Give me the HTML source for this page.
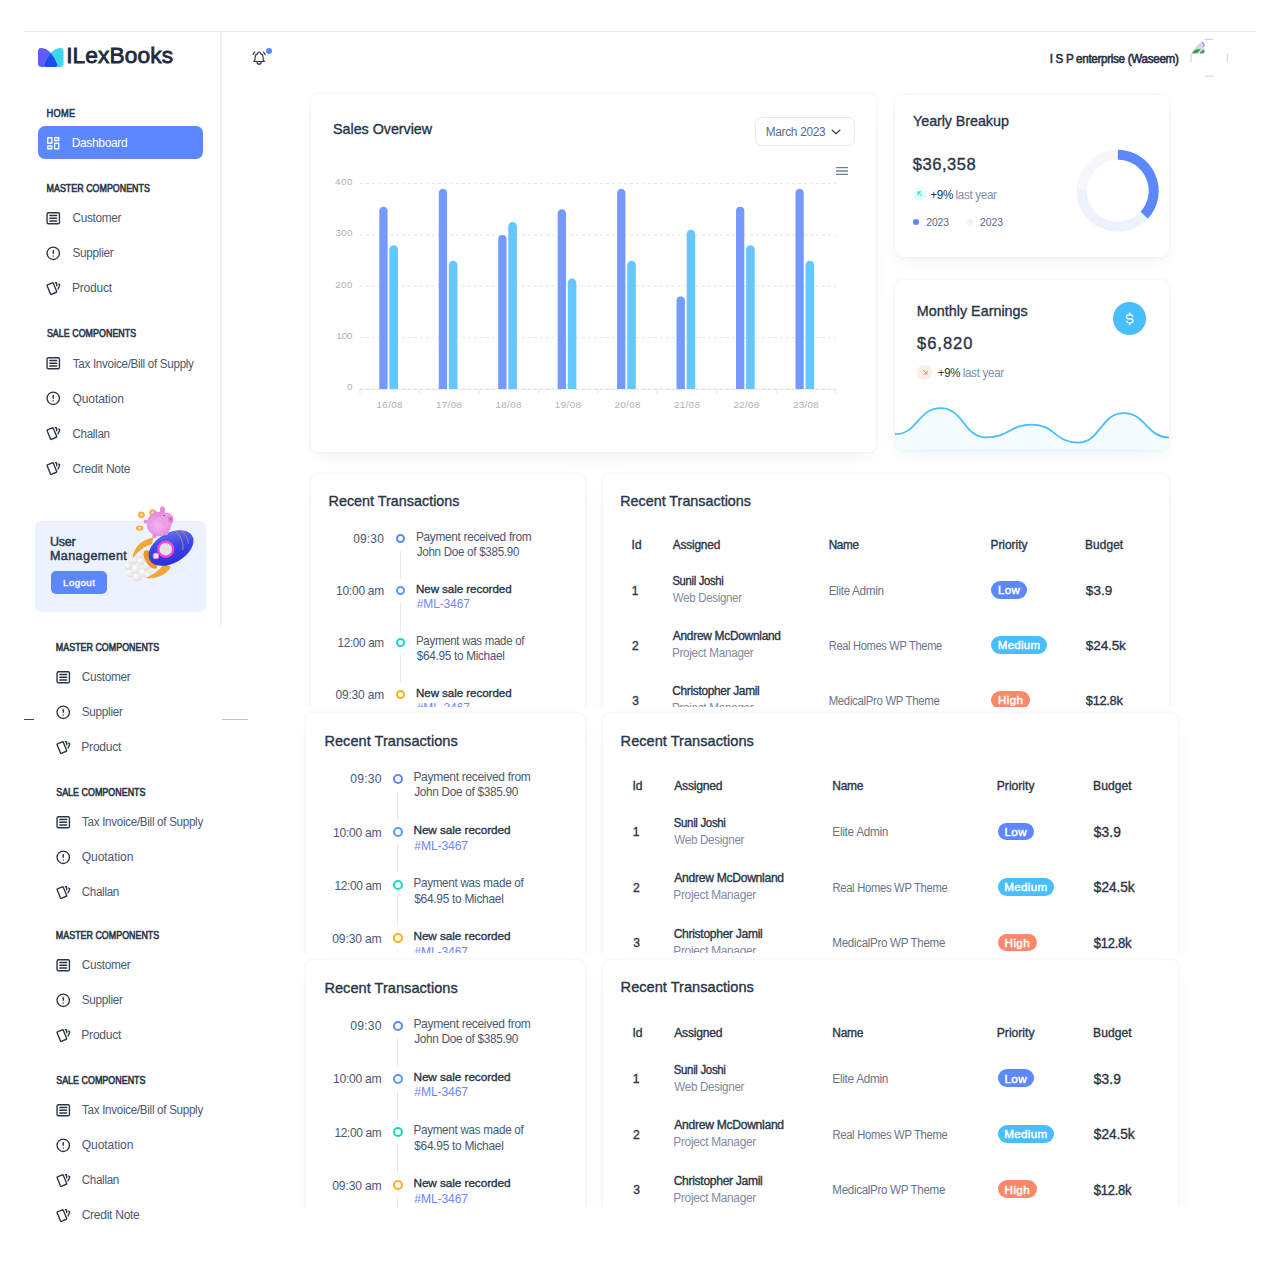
<!DOCTYPE html>
<html><head><meta charset="utf-8"><title>ILexBooks Dashboard</title>
<style>
html,body{margin:0;padding:0;background:#fff;}
body{width:1280px;height:1280px;position:relative;overflow:hidden;font-family:"Liberation Sans",sans-serif;}
.t{position:absolute;white-space:nowrap;}
svg{overflow:visible}
</style></head><body>
<div style="position:absolute;left:24.00px;top:31.00px;width:1232.00px;height:1.00px;background:#ebe6e3"></div>
<div style="position:absolute;left:219.80px;top:31.00px;width:2.00px;height:593.50px;background:#eceff5"></div>
<svg style="position:absolute;left:38px;top:48.2px" width="25.5" height="19" viewBox="0 0 25.5 19">
<defs><clipPath id="lc"><path d="M25.5 3.5Q25.5 0 22 0.1Q16.5 0.6 12.75 5.1Q8.5 10 6.3 16.2Q5.5 18.9 8.5 18.9L22 18.9Q25.5 18.9 25.5 15.5Z"/></clipPath></defs>
<path d="M0 3.5Q0 0 3.5 0.1Q9 0.6 12.75 5.1Q17 10 19.2 16.2Q20 18.9 17 18.9L3.5 18.9Q0 18.9 0 15.5Z" fill="#625bfd"/>
<path d="M25.5 3.5Q25.5 0 22 0.1Q16.5 0.6 12.75 5.1Q8.5 10 6.3 16.2Q5.5 18.9 8.5 18.9L22 18.9Q25.5 18.9 25.5 15.5Z" fill="#3dd8eb"/>
<path d="M0 3.5Q0 0 3.5 0.1Q9 0.6 12.75 5.1Q17 10 19.2 16.2Q20 18.9 17 18.9L3.5 18.9Q0 18.9 0 15.5Z" fill="#1b4fe7" clip-path="url(#lc)"/>
</svg>
<span class="t" style="left:66.20px;top:42.00px;font-size:22.73px;line-height:26.00px;letter-spacing:0.113px;color:#1f2a3c;font-weight:400;-webkit-text-stroke:0.8px #1f2a3c;">ILexBooks</span>
<svg style="position:absolute;left:251.30px;top:50.30px" width="16.2" height="16.2" viewBox="0 0 24 24" fill="none" stroke="#2a3547" stroke-width="1.7" stroke-linecap="round" stroke-linejoin="round"><path d="M10 5a2 2 0 0 1 4 0a7 7 0 0 1 4 6v3a4 4 0 0 0 2 3h-16a4 4 0 0 0 2 -3v-3a7 7 0 0 1 4 -6"/><path d="M9 17v1a3 3 0 0 0 6 0v-1"/><path d="M21 6.727a11.05 11.05 0 0 0 -2.794 -3.727"/><path d="M3 6.727a11.05 11.05 0 0 1 2.792 -3.727"/></svg>
<div style="position:absolute;left:265.80px;top:47.80px;width:6.20px;height:6.20px;background:#5d87ff;border-radius:50%"></div>
<span class="t" style="left:1049.65px;top:52.00px;font-size:11.63px;line-height:13.00px;letter-spacing:-0.298px;color:#253043;font-weight:400;-webkit-text-stroke:0.55px #253043;transform:scaleY(1.0591);transform-origin:0 11px;">I S P enterprise (Waseem)</span>
<svg style="position:absolute;left:1188px;top:37px" width="44" height="44" viewBox="0 0 44 44">
<g stroke="#d2d2d2" stroke-width="1.1" fill="none" stroke-linecap="round">
<path d="M17 2.4h8"/><path d="M17 39.2h8"/><path d="M3 17v7.5"/><path d="M39.4 17v7.5"/>
</g>
<path d="M4.5 15.7 L8.5 9 L12 6 L14 5 L15.8 7.5 L15.8 15.7Z" fill="#c9dcf6"/>
<path d="M4.2 15.8 Q7 11 12.8 12.2 L9.5 15.8Z" fill="#39a526"/>
<path d="M11.8 15.8 L14.8 12.8 L15.8 13.8 L15.8 15.8Z" fill="#39a526"/>
<path d="M4.2 15.9H9.8M11.8 15.9H15.9V12.5M15.9 9.8V7.2L13.6 4.8" stroke="#6f6f6f" stroke-width="1" fill="none"/>
</svg>
<div style="position:absolute;left:38.00px;top:125.50px;width:164.70px;height:33.40px;background:#5d87ff;border-radius:7px"></div>
<svg style="position:absolute;left:44.95px;top:134.75px" width="16.5" height="16.5" viewBox="0 0 24 24" fill="none" stroke="#fff" stroke-width="1.9" stroke-linecap="round" stroke-linejoin="round"><path d="M4 4h6v8h-6zM4 16h6v4h-6zM14 12h6v8h-6zM14 4h6v4h-6z"/></svg>
<span class="t" style="left:71.70px;top:136.00px;font-size:11.94px;line-height:14.00px;letter-spacing:-0.300px;color:#fff;font-weight:400;transform:scaleY(1.0802);transform-origin:0 11px;">Dashboard</span>
<span class="t" style="left:46.55px;top:109.00px;font-size:9.29px;line-height:10.00px;letter-spacing:0.250px;color:#2a3547;font-weight:400;-webkit-text-stroke:0.5px #2a3547;transform:scaleY(1.1000);transform-origin:0 8px;">HOME</span>
<span class="t" style="left:46.55px;top:184.00px;font-size:8.89px;line-height:10.00px;letter-spacing:0.019px;color:#2a3547;font-weight:400;-webkit-text-stroke:0.5px #2a3547;transform:scaleY(1.1300);transform-origin:0 8px;">MASTER COMPONENTS</span>
<svg style="position:absolute;left:45.35px;top:210.05px" width="16.5" height="16.5" viewBox="0 0 24 24" fill="none" stroke="#2a3547" stroke-width="2.0" stroke-linecap="round" stroke-linejoin="round"><rect x="3" y="4" width="18" height="16" rx="2"/><path d="M7 8h10M7 12h10M7 16h10"/></svg>
<span class="t" style="left:72.40px;top:211.00px;font-size:11.83px;line-height:14.00px;letter-spacing:-0.307px;color:#4b5870;font-weight:400;transform:scaleY(1.0198);transform-origin:0 11px;">Customer</span>
<svg style="position:absolute;left:45.35px;top:245.05px" width="16.5" height="16.5" viewBox="0 0 24 24" fill="none" stroke="#2a3547" stroke-width="2.0" stroke-linecap="round" stroke-linejoin="round"><circle cx="12" cy="12" r="9"/><path d="M12 8v4M12 16h.01"/></svg>
<span class="t" style="left:72.45px;top:246.00px;font-size:11.77px;line-height:13.00px;letter-spacing:-0.279px;color:#4b5870;font-weight:400;transform:scaleY(1.0248);transform-origin:0 11px;">Supplier</span>
<svg style="position:absolute;left:45.35px;top:280.05px" width="16.5" height="16.5" viewBox="0 0 24 24" fill="none" stroke="#2a3547" stroke-width="2.0" stroke-linecap="round" stroke-linejoin="round"><path d="M3.604 7.197l7.138 -3.109a.96 .96 0 0 1 1.27 .527l4.924 11.902a1 1 0 0 1 -.514 1.304l-7.137 3.109a.96 .96 0 0 1 -1.271 -.527l-4.924 -11.903a1 1 0 0 1 .514 -1.304z"/><path d="M15 4h1a1 1 0 0 1 1 1v3.5"/><path d="M20 6c.264 .112 .52 .217 .768 .315a1 1 0 0 1 .53 1.311l-2.298 5.374"/></svg>
<span class="t" style="left:72.00px;top:281.00px;font-size:12.06px;line-height:14.00px;letter-spacing:-0.225px;color:#4b5870;font-weight:400;">Product</span>
<span class="t" style="left:46.90px;top:329.00px;font-size:8.89px;line-height:10.00px;letter-spacing:0.036px;color:#2a3547;font-weight:400;-webkit-text-stroke:0.5px #2a3547;transform:scaleY(1.1300);transform-origin:0 8px;">SALE COMPONENTS</span>
<svg style="position:absolute;left:45.35px;top:355.35px" width="16.5" height="16.5" viewBox="0 0 24 24" fill="none" stroke="#2a3547" stroke-width="2.0" stroke-linecap="round" stroke-linejoin="round"><rect x="3" y="4" width="18" height="16" rx="2"/><path d="M7 8h10M7 12h10M7 16h10"/></svg>
<span class="t" style="left:72.75px;top:357.00px;font-size:11.62px;line-height:13.00px;letter-spacing:-0.290px;color:#4b5870;font-weight:400;transform:scaleY(1.0378);transform-origin:0 11px;">Tax Invoice/Bill of Supply</span>
<svg style="position:absolute;left:45.35px;top:390.35px" width="16.5" height="16.5" viewBox="0 0 24 24" fill="none" stroke="#2a3547" stroke-width="2.0" stroke-linecap="round" stroke-linejoin="round"><circle cx="12" cy="12" r="9"/><path d="M12 8v4M12 16h.01"/></svg>
<span class="t" style="left:72.45px;top:392.00px;font-size:12.06px;line-height:14.00px;letter-spacing:-0.081px;color:#4b5870;font-weight:400;">Quotation</span>
<svg style="position:absolute;left:45.35px;top:425.35px" width="16.5" height="16.5" viewBox="0 0 24 24" fill="none" stroke="#2a3547" stroke-width="2.0" stroke-linecap="round" stroke-linejoin="round"><path d="M3.604 7.197l7.138 -3.109a.96 .96 0 0 1 1.27 .527l4.924 11.902a1 1 0 0 1 -.514 1.304l-7.137 3.109a.96 .96 0 0 1 -1.271 -.527l-4.924 -11.903a1 1 0 0 1 .514 -1.304z"/><path d="M15 4h1a1 1 0 0 1 1 1v3.5"/><path d="M20 6c.264 .112 .52 .217 .768 .315a1 1 0 0 1 .53 1.311l-2.298 5.374"/></svg>
<span class="t" style="left:72.40px;top:427.00px;font-size:11.61px;line-height:13.00px;letter-spacing:-0.292px;color:#4b5870;font-weight:400;transform:scaleY(1.0395);transform-origin:0 11px;">Challan</span>
<svg style="position:absolute;left:45.35px;top:460.35px" width="16.5" height="16.5" viewBox="0 0 24 24" fill="none" stroke="#2a3547" stroke-width="2.0" stroke-linecap="round" stroke-linejoin="round"><path d="M3.604 7.197l7.138 -3.109a.96 .96 0 0 1 1.27 .527l4.924 11.902a1 1 0 0 1 -.514 1.304l-7.137 3.109a.96 .96 0 0 1 -1.271 -.527l-4.924 -11.903a1 1 0 0 1 .514 -1.304z"/><path d="M15 4h1a1 1 0 0 1 1 1v3.5"/><path d="M20 6c.264 .112 .52 .217 .768 .315a1 1 0 0 1 .53 1.311l-2.298 5.374"/></svg>
<span class="t" style="left:72.40px;top:462.00px;font-size:12.06px;line-height:14.00px;letter-spacing:-0.280px;color:#4b5870;font-weight:400;">Credit Note</span>
<div style="position:absolute;left:34.60px;top:520.50px;width:171.50px;height:91.80px;background:#ecf2ff;border-radius:6px"></div>
<span class="t" style="left:50.05px;top:535.00px;font-size:12.52px;line-height:14.00px;letter-spacing:-0.250px;color:#2a3547;font-weight:400;-webkit-text-stroke:0.45px #2a3547;">User</span>
<span class="t" style="left:50.00px;top:549.00px;font-size:12.52px;line-height:14.00px;letter-spacing:0.422px;color:#2a3547;font-weight:400;-webkit-text-stroke:0.45px #2a3547;">Management</span>
<div style="position:absolute;left:51.00px;top:571.10px;width:56.10px;height:22.60px;background:#5d87ff;border-radius:5px"></div>
<span class="t" style="left:63.10px;top:577.00px;font-size:9.70px;line-height:11.00px;letter-spacing:0.420px;color:#fff;font-weight:400;-webkit-text-stroke:0.4px #fff;">Logout</span>
<svg style="position:absolute;left:120px;top:500px" width="80" height="90" viewBox="0 0 80 90">
<defs>
<linearGradient id="rb" x1="0.2" y1="1" x2="0.8" y2="0"><stop offset="0" stop-color="#2a2dd4"/><stop offset="0.55" stop-color="#3b45e8"/><stop offset="1" stop-color="#6577f3"/></linearGradient>
<radialGradient id="pg" cx="0.45" cy="0.55" r="0.6"><stop offset="0" stop-color="#f3b8ef"/><stop offset="1" stop-color="#e283da"/></radialGradient>
<radialGradient id="pf" cx="0.35" cy="0.35" r="0.7"><stop offset="0" stop-color="#ffffff"/><stop offset="1" stop-color="#dcdcdc"/></radialGradient>
</defs>
<g fill="url(#pf)">
<circle cx="10" cy="73" r="4.6"/><circle cx="8" cy="66" r="4.2"/><circle cx="17" cy="77" r="4.6"/><circle cx="14" cy="60" r="4"/><circle cx="16" cy="69" r="4.8"/><circle cx="23" cy="73" r="4.5"/><circle cx="21" cy="61" r="4.2"/><circle cx="27" cy="66" r="4.2"/><circle cx="28" cy="75" r="3.6"/><circle cx="20" cy="55" r="3.5"/>
</g>
<path d="M12.5 58.5 C13.5 48 21 39.5 33.5 37.5 L32 44 C24.5 46 18 51.5 12.5 58.5Z" fill="#f4a53b"/>
<path d="M25.5 78 C35.5 79.5 46.5 75 51 67 L44 63.5 C40 70 33.5 74.5 25.5 78Z" fill="#f4a53b"/>
<ellipse cx="30.5" cy="59.5" rx="5" ry="10.5" transform="rotate(-32 30.5 59.5)" fill="#ef9526"/>
<ellipse cx="51" cy="48" rx="24.5" ry="15" transform="rotate(-30 51 48)" fill="url(#rb)"/>
<path d="M55.5 31 Q64 39 63 50" stroke="#e9a43a" stroke-width="0.7" fill="none"/>
<path d="M60.5 29.5 Q68 35.5 68.5 44" stroke="#e9a43a" stroke-width="0.6" fill="none"/>
<circle cx="45.7" cy="49.2" r="8.6" fill="#ff45d5"/><circle cx="45.7" cy="49.2" r="6.2" fill="#e4e4e7"/>
<circle cx="35.9" cy="55.9" r="3.2" fill="#ff7ee3"/><circle cx="35.9" cy="55.9" r="2.3" fill="#e6e6ea"/>
<circle cx="21.4" cy="14.8" r="3.4" fill="#f4ad48"/><circle cx="21.4" cy="14.8" r="1.5" fill="#fbdcae"/>
<circle cx="32.7" cy="12.7" r="3.4" fill="#f4ad48"/><circle cx="32.7" cy="12.7" r="1.5" fill="#fbdcae"/>
<ellipse cx="19.7" cy="28.1" rx="3.9" ry="2.6" fill="#f4ad48"/><ellipse cx="19.7" cy="28.1" rx="1.7" ry="1.1" fill="#fbdcae"/>
<circle cx="25.5" cy="21.5" r="2" fill="#e98ae0"/>
<ellipse cx="42.5" cy="10.5" rx="2.6" ry="4.2" fill="#e98ae0"/>
<ellipse cx="36" cy="14" rx="2.4" ry="3" transform="rotate(-30 36 14)" fill="#e98ae0"/>
<circle cx="39" cy="24" r="12.2" fill="url(#pg)"/>
<circle cx="46.5" cy="19.5" r="7" fill="#eaa0e4"/>
<ellipse cx="50.5" cy="19.5" rx="2.6" ry="3.2" fill="#e37fd8"/>
<circle cx="44" cy="15.5" r="0.7" fill="#4a3a50"/><circle cx="50.5" cy="19" r="0.6" fill="#4a3a50"/>
<circle cx="46" cy="33" r="2.2" fill="#e98ae0"/><circle cx="34.5" cy="36" r="2.2" fill="#e98ae0"/>
</svg>
<div style="position:absolute;left:0px;top:626px;width:222px;height:286px;overflow:hidden;background:#fff"><div style="position:absolute;left:0px;top:-626px;width:1280px;height:1280px;">
<span class="t" style="left:55.85px;top:643.00px;font-size:8.89px;line-height:10.00px;letter-spacing:0.019px;color:#2a3547;font-weight:400;-webkit-text-stroke:0.5px #2a3547;transform:scaleY(1.1300);transform-origin:0 8px;">MASTER COMPONENTS</span>
<svg style="position:absolute;left:54.65px;top:668.85px" width="16.5" height="16.5" viewBox="0 0 24 24" fill="none" stroke="#2a3547" stroke-width="2.0" stroke-linecap="round" stroke-linejoin="round"><rect x="3" y="4" width="18" height="16" rx="2"/><path d="M7 8h10M7 12h10M7 16h10"/></svg>
<span class="t" style="left:81.70px;top:670.00px;font-size:11.83px;line-height:14.00px;letter-spacing:-0.307px;color:#4b5870;font-weight:400;transform:scaleY(1.0198);transform-origin:0 11px;">Customer</span>
<svg style="position:absolute;left:54.65px;top:703.85px" width="16.5" height="16.5" viewBox="0 0 24 24" fill="none" stroke="#2a3547" stroke-width="2.0" stroke-linecap="round" stroke-linejoin="round"><circle cx="12" cy="12" r="9"/><path d="M12 8v4M12 16h.01"/></svg>
<span class="t" style="left:81.75px;top:705.00px;font-size:11.77px;line-height:13.00px;letter-spacing:-0.279px;color:#4b5870;font-weight:400;transform:scaleY(1.0248);transform-origin:0 11px;">Supplier</span>
<svg style="position:absolute;left:54.65px;top:738.85px" width="16.5" height="16.5" viewBox="0 0 24 24" fill="none" stroke="#2a3547" stroke-width="2.0" stroke-linecap="round" stroke-linejoin="round"><path d="M3.604 7.197l7.138 -3.109a.96 .96 0 0 1 1.27 .527l4.924 11.902a1 1 0 0 1 -.514 1.304l-7.137 3.109a.96 .96 0 0 1 -1.271 -.527l-4.924 -11.903a1 1 0 0 1 .514 -1.304z"/><path d="M15 4h1a1 1 0 0 1 1 1v3.5"/><path d="M20 6c.264 .112 .52 .217 .768 .315a1 1 0 0 1 .53 1.311l-2.298 5.374"/></svg>
<span class="t" style="left:81.30px;top:740.00px;font-size:12.06px;line-height:14.00px;letter-spacing:-0.225px;color:#4b5870;font-weight:400;">Product</span>
<span class="t" style="left:56.20px;top:788.00px;font-size:8.89px;line-height:10.00px;letter-spacing:0.036px;color:#2a3547;font-weight:400;-webkit-text-stroke:0.5px #2a3547;transform:scaleY(1.1300);transform-origin:0 8px;">SALE COMPONENTS</span>
<svg style="position:absolute;left:54.65px;top:814.15px" width="16.5" height="16.5" viewBox="0 0 24 24" fill="none" stroke="#2a3547" stroke-width="2.0" stroke-linecap="round" stroke-linejoin="round"><rect x="3" y="4" width="18" height="16" rx="2"/><path d="M7 8h10M7 12h10M7 16h10"/></svg>
<span class="t" style="left:82.05px;top:815.00px;font-size:11.62px;line-height:13.00px;letter-spacing:-0.290px;color:#4b5870;font-weight:400;transform:scaleY(1.0378);transform-origin:0 11px;">Tax Invoice/Bill of Supply</span>
<svg style="position:absolute;left:54.65px;top:849.15px" width="16.5" height="16.5" viewBox="0 0 24 24" fill="none" stroke="#2a3547" stroke-width="2.0" stroke-linecap="round" stroke-linejoin="round"><circle cx="12" cy="12" r="9"/><path d="M12 8v4M12 16h.01"/></svg>
<span class="t" style="left:81.75px;top:850.00px;font-size:12.06px;line-height:14.00px;letter-spacing:-0.081px;color:#4b5870;font-weight:400;">Quotation</span>
<svg style="position:absolute;left:54.65px;top:884.15px" width="16.5" height="16.5" viewBox="0 0 24 24" fill="none" stroke="#2a3547" stroke-width="2.0" stroke-linecap="round" stroke-linejoin="round"><path d="M3.604 7.197l7.138 -3.109a.96 .96 0 0 1 1.27 .527l4.924 11.902a1 1 0 0 1 -.514 1.304l-7.137 3.109a.96 .96 0 0 1 -1.271 -.527l-4.924 -11.903a1 1 0 0 1 .514 -1.304z"/><path d="M15 4h1a1 1 0 0 1 1 1v3.5"/><path d="M20 6c.264 .112 .52 .217 .768 .315a1 1 0 0 1 .53 1.311l-2.298 5.374"/></svg>
<span class="t" style="left:81.70px;top:885.00px;font-size:11.61px;line-height:13.00px;letter-spacing:-0.292px;color:#4b5870;font-weight:400;transform:scaleY(1.0395);transform-origin:0 11px;">Challan</span>
<svg style="position:absolute;left:54.65px;top:919.15px" width="16.5" height="16.5" viewBox="0 0 24 24" fill="none" stroke="#2a3547" stroke-width="2.0" stroke-linecap="round" stroke-linejoin="round"><path d="M3.604 7.197l7.138 -3.109a.96 .96 0 0 1 1.27 .527l4.924 11.902a1 1 0 0 1 -.514 1.304l-7.137 3.109a.96 .96 0 0 1 -1.271 -.527l-4.924 -11.903a1 1 0 0 1 .514 -1.304z"/><path d="M15 4h1a1 1 0 0 1 1 1v3.5"/><path d="M20 6c.264 .112 .52 .217 .768 .315a1 1 0 0 1 .53 1.311l-2.298 5.374"/></svg>
<span class="t" style="left:81.70px;top:920.00px;font-size:12.06px;line-height:14.00px;letter-spacing:-0.280px;color:#4b5870;font-weight:400;">Credit Note</span>
</div></div>
<div style="position:absolute;left:0px;top:912px;width:222px;height:368px;overflow:hidden;background:#fff"><div style="position:absolute;left:0px;top:-912px;width:1280px;height:1280px;">
<span class="t" style="left:55.85px;top:931.00px;font-size:8.89px;line-height:10.00px;letter-spacing:0.019px;color:#2a3547;font-weight:400;-webkit-text-stroke:0.5px #2a3547;transform:scaleY(1.1300);transform-origin:0 8px;">MASTER COMPONENTS</span>
<svg style="position:absolute;left:54.65px;top:956.55px" width="16.5" height="16.5" viewBox="0 0 24 24" fill="none" stroke="#2a3547" stroke-width="2.0" stroke-linecap="round" stroke-linejoin="round"><rect x="3" y="4" width="18" height="16" rx="2"/><path d="M7 8h10M7 12h10M7 16h10"/></svg>
<span class="t" style="left:81.70px;top:958.00px;font-size:11.83px;line-height:14.00px;letter-spacing:-0.307px;color:#4b5870;font-weight:400;transform:scaleY(1.0198);transform-origin:0 11px;">Customer</span>
<svg style="position:absolute;left:54.65px;top:991.55px" width="16.5" height="16.5" viewBox="0 0 24 24" fill="none" stroke="#2a3547" stroke-width="2.0" stroke-linecap="round" stroke-linejoin="round"><circle cx="12" cy="12" r="9"/><path d="M12 8v4M12 16h.01"/></svg>
<span class="t" style="left:81.75px;top:993.00px;font-size:11.77px;line-height:13.00px;letter-spacing:-0.279px;color:#4b5870;font-weight:400;transform:scaleY(1.0248);transform-origin:0 11px;">Supplier</span>
<svg style="position:absolute;left:54.65px;top:1026.55px" width="16.5" height="16.5" viewBox="0 0 24 24" fill="none" stroke="#2a3547" stroke-width="2.0" stroke-linecap="round" stroke-linejoin="round"><path d="M3.604 7.197l7.138 -3.109a.96 .96 0 0 1 1.27 .527l4.924 11.902a1 1 0 0 1 -.514 1.304l-7.137 3.109a.96 .96 0 0 1 -1.271 -.527l-4.924 -11.903a1 1 0 0 1 .514 -1.304z"/><path d="M15 4h1a1 1 0 0 1 1 1v3.5"/><path d="M20 6c.264 .112 .52 .217 .768 .315a1 1 0 0 1 .53 1.311l-2.298 5.374"/></svg>
<span class="t" style="left:81.30px;top:1028.00px;font-size:12.06px;line-height:14.00px;letter-spacing:-0.225px;color:#4b5870;font-weight:400;">Product</span>
<span class="t" style="left:56.20px;top:1076.00px;font-size:8.89px;line-height:10.00px;letter-spacing:0.036px;color:#2a3547;font-weight:400;-webkit-text-stroke:0.5px #2a3547;transform:scaleY(1.1300);transform-origin:0 8px;">SALE COMPONENTS</span>
<svg style="position:absolute;left:54.65px;top:1101.85px" width="16.5" height="16.5" viewBox="0 0 24 24" fill="none" stroke="#2a3547" stroke-width="2.0" stroke-linecap="round" stroke-linejoin="round"><rect x="3" y="4" width="18" height="16" rx="2"/><path d="M7 8h10M7 12h10M7 16h10"/></svg>
<span class="t" style="left:82.05px;top:1103.00px;font-size:11.62px;line-height:13.00px;letter-spacing:-0.290px;color:#4b5870;font-weight:400;transform:scaleY(1.0378);transform-origin:0 11px;">Tax Invoice/Bill of Supply</span>
<svg style="position:absolute;left:54.65px;top:1136.85px" width="16.5" height="16.5" viewBox="0 0 24 24" fill="none" stroke="#2a3547" stroke-width="2.0" stroke-linecap="round" stroke-linejoin="round"><circle cx="12" cy="12" r="9"/><path d="M12 8v4M12 16h.01"/></svg>
<span class="t" style="left:81.75px;top:1138.00px;font-size:12.06px;line-height:14.00px;letter-spacing:-0.081px;color:#4b5870;font-weight:400;">Quotation</span>
<svg style="position:absolute;left:54.65px;top:1171.85px" width="16.5" height="16.5" viewBox="0 0 24 24" fill="none" stroke="#2a3547" stroke-width="2.0" stroke-linecap="round" stroke-linejoin="round"><path d="M3.604 7.197l7.138 -3.109a.96 .96 0 0 1 1.27 .527l4.924 11.902a1 1 0 0 1 -.514 1.304l-7.137 3.109a.96 .96 0 0 1 -1.271 -.527l-4.924 -11.903a1 1 0 0 1 .514 -1.304z"/><path d="M15 4h1a1 1 0 0 1 1 1v3.5"/><path d="M20 6c.264 .112 .52 .217 .768 .315a1 1 0 0 1 .53 1.311l-2.298 5.374"/></svg>
<span class="t" style="left:81.70px;top:1173.00px;font-size:11.61px;line-height:13.00px;letter-spacing:-0.292px;color:#4b5870;font-weight:400;transform:scaleY(1.0395);transform-origin:0 11px;">Challan</span>
<svg style="position:absolute;left:54.65px;top:1206.85px" width="16.5" height="16.5" viewBox="0 0 24 24" fill="none" stroke="#2a3547" stroke-width="2.0" stroke-linecap="round" stroke-linejoin="round"><path d="M3.604 7.197l7.138 -3.109a.96 .96 0 0 1 1.27 .527l4.924 11.902a1 1 0 0 1 -.514 1.304l-7.137 3.109a.96 .96 0 0 1 -1.271 -.527l-4.924 -11.903a1 1 0 0 1 .514 -1.304z"/><path d="M15 4h1a1 1 0 0 1 1 1v3.5"/><path d="M20 6c.264 .112 .52 .217 .768 .315a1 1 0 0 1 .53 1.311l-2.298 5.374"/></svg>
<span class="t" style="left:81.70px;top:1208.00px;font-size:12.06px;line-height:14.00px;letter-spacing:-0.280px;color:#4b5870;font-weight:400;">Credit Note</span>
</div></div>
<div style="position:absolute;left:310.60px;top:94.40px;width:565.90px;height:357.30px;background:#fff;border-radius:7px;box-shadow:0 0 3px rgba(145,158,171,0.18),0 8px 18px -6px rgba(145,158,171,0.16);"></div>
<span class="t" style="left:333.10px;top:121.00px;font-size:14.34px;line-height:16.00px;letter-spacing:-0.042px;color:#2a3547;font-weight:400;-webkit-text-stroke:0.35px #2a3547;">Sales Overview</span>
<div style="position:absolute;left:754.50px;top:117.30px;width:100.30px;height:29.10px;box-sizing:border-box;border:1px solid #e5eaef;border-radius:7px;background:#fff"></div>
<span class="t" style="left:765.65px;top:125.00px;font-size:11.86px;line-height:14.00px;letter-spacing:-0.289px;color:#5a6a85;font-weight:400;">March 2023</span>
<svg style="position:absolute;left:830px;top:127px" width="12" height="10" viewBox="0 0 12 10"><path d="M2.2 3.2 L6 6.8 L9.8 3.2" stroke="#3a4658" stroke-width="1.3" fill="none" stroke-linecap="round" stroke-linejoin="round"/></svg>
<svg style="position:absolute;left:835px;top:166px" width="14" height="10" viewBox="0 0 14 10"><path d="M1 1.6h12M1 5h12M1 8.4h12" stroke="#6e8192" stroke-width="1.3"/></svg>
<svg style="position:absolute;left:0;top:0" width="1280" height="460"><line x1="360" y1="183.6" x2="836" y2="183.6" stroke="#e3e3e3" stroke-width="1" stroke-dasharray="2.5 3.5"/><line x1="360" y1="235.0" x2="836" y2="235.0" stroke="#e3e3e3" stroke-width="1" stroke-dasharray="2.5 3.5"/><line x1="360" y1="286.2" x2="836" y2="286.2" stroke="#e3e3e3" stroke-width="1" stroke-dasharray="2.5 3.5"/><line x1="360" y1="337.6" x2="836" y2="337.6" stroke="#e3e3e3" stroke-width="1" stroke-dasharray="2.5 3.5"/><line x1="360" y1="389.5" x2="836" y2="389.5" stroke="#efefef" stroke-width="1"/><line x1="360" y1="389" x2="836" y2="389" stroke="#dddddd" stroke-width="1" stroke-dasharray="2.5 3.5"/><line x1="360.0" y1="389" x2="360.0" y2="394" stroke="#e6e6e6" stroke-width="1"/><line x1="419.4" y1="389" x2="419.4" y2="394" stroke="#e6e6e6" stroke-width="1"/><line x1="478.9" y1="389" x2="478.9" y2="394" stroke="#e6e6e6" stroke-width="1"/><line x1="538.4" y1="389" x2="538.4" y2="394" stroke="#e6e6e6" stroke-width="1"/><line x1="597.8" y1="389" x2="597.8" y2="394" stroke="#e6e6e6" stroke-width="1"/><line x1="657.2" y1="389" x2="657.2" y2="394" stroke="#e6e6e6" stroke-width="1"/><line x1="716.7" y1="389" x2="716.7" y2="394" stroke="#e6e6e6" stroke-width="1"/><line x1="776.2" y1="389" x2="776.2" y2="394" stroke="#e6e6e6" stroke-width="1"/><line x1="835.6" y1="389" x2="835.6" y2="394" stroke="#e6e6e6" stroke-width="1"/><path d="M379.30 389 V210.86 A4.15 4.15 0 0 1 387.60 210.86 V389Z" fill="#7599ff"/><path d="M389.40 389 V249.52 A4.30 4.30 0 0 1 398.00 249.52 V389Z" fill="#64c7ff"/><path d="M438.75 389 V192.89 A4.15 4.15 0 0 1 447.05 192.89 V389Z" fill="#7599ff"/><path d="M448.85 389 V264.93 A4.30 4.30 0 0 1 457.45 264.93 V389Z" fill="#64c7ff"/><path d="M498.20 389 V239.10 A4.15 4.15 0 0 1 506.50 239.10 V389Z" fill="#7599ff"/><path d="M508.30 389 V226.41 A4.30 4.30 0 0 1 516.90 226.41 V389Z" fill="#64c7ff"/><path d="M557.65 389 V213.43 A4.15 4.15 0 0 1 565.95 213.43 V389Z" fill="#7599ff"/><path d="M567.75 389 V282.90 A4.30 4.30 0 0 1 576.35 282.90 V389Z" fill="#64c7ff"/><path d="M617.10 389 V192.89 A4.15 4.15 0 0 1 625.40 192.89 V389Z" fill="#7599ff"/><path d="M627.20 389 V264.93 A4.30 4.30 0 0 1 635.80 264.93 V389Z" fill="#64c7ff"/><path d="M676.55 389 V300.72 A4.15 4.15 0 0 1 684.85 300.72 V389Z" fill="#7599ff"/><path d="M686.65 389 V234.12 A4.30 4.30 0 0 1 695.25 234.12 V389Z" fill="#64c7ff"/><path d="M736.00 389 V210.86 A4.15 4.15 0 0 1 744.30 210.86 V389Z" fill="#7599ff"/><path d="M746.10 389 V249.52 A4.30 4.30 0 0 1 754.70 249.52 V389Z" fill="#64c7ff"/><path d="M795.45 389 V192.89 A4.15 4.15 0 0 1 803.75 192.89 V389Z" fill="#7599ff"/><path d="M805.55 389 V264.93 A4.30 4.30 0 0 1 814.15 264.93 V389Z" fill="#64c7ff"/></svg>
<span class="t" style="left:334.90px;top:176.00px;font-size:9.78px;line-height:11.00px;letter-spacing:0.575px;color:#adb0bb;font-weight:400;">400</span>
<span class="t" style="left:335.40px;top:227.00px;font-size:9.78px;line-height:11.00px;letter-spacing:0.325px;color:#adb0bb;font-weight:400;">300</span>
<span class="t" style="left:335.30px;top:279.00px;font-size:9.78px;line-height:11.00px;letter-spacing:0.375px;color:#adb0bb;font-weight:400;">200</span>
<span class="t" style="left:336.45px;top:330.00px;font-size:9.78px;line-height:11.00px;letter-spacing:-0.200px;color:#adb0bb;font-weight:400;">100</span>
<span class="t" style="left:346.95px;top:381.00px;font-size:9.78px;line-height:11.00px;letter-spacing:0.000px;color:#adb0bb;font-weight:400;">0</span>
<span class="t" style="left:376.48px;top:399.00px;font-size:9.78px;line-height:11.00px;letter-spacing:0.412px;color:#adb0bb;font-weight:400;">16/08</span>
<span class="t" style="left:435.93px;top:399.00px;font-size:9.78px;line-height:11.00px;letter-spacing:0.412px;color:#adb0bb;font-weight:400;">17/08</span>
<span class="t" style="left:495.38px;top:399.00px;font-size:9.78px;line-height:11.00px;letter-spacing:0.412px;color:#adb0bb;font-weight:400;">18/08</span>
<span class="t" style="left:554.83px;top:399.00px;font-size:9.78px;line-height:11.00px;letter-spacing:0.412px;color:#adb0bb;font-weight:400;">19/08</span>
<span class="t" style="left:614.53px;top:399.00px;font-size:9.78px;line-height:11.00px;letter-spacing:0.350px;color:#adb0bb;font-weight:400;">20/08</span>
<span class="t" style="left:673.98px;top:399.00px;font-size:9.78px;line-height:11.00px;letter-spacing:0.350px;color:#adb0bb;font-weight:400;">21/08</span>
<span class="t" style="left:733.42px;top:399.00px;font-size:9.78px;line-height:11.00px;letter-spacing:0.350px;color:#adb0bb;font-weight:400;">22/08</span>
<span class="t" style="left:792.88px;top:399.00px;font-size:9.78px;line-height:11.00px;letter-spacing:0.350px;color:#adb0bb;font-weight:400;">23/08</span>
<div style="position:absolute;left:894.80px;top:94.80px;width:274.20px;height:162.50px;background:#fff;border-radius:7px;box-shadow:0 0 3px rgba(145,158,171,0.18),0 8px 18px -6px rgba(145,158,171,0.16);"></div>
<span class="t" style="left:913.05px;top:113.00px;font-size:14.34px;line-height:16.00px;letter-spacing:-0.065px;color:#2a3547;font-weight:400;-webkit-text-stroke:0.35px #2a3547;">Yearly Breakup</span>
<span class="t" style="left:912.80px;top:155.00px;font-size:16.56px;line-height:19.00px;letter-spacing:0.517px;color:#2a3547;font-weight:400;-webkit-text-stroke:0.35px #2a3547;">$36,358</span>
<div style="position:absolute;left:913.10px;top:186.60px;width:14.20px;height:14.20px;background:#e6fffa;border-radius:50%"></div>
<svg style="position:absolute;left:915px;top:188.5px" width="10" height="10" viewBox="0 0 10 10"><path d="M7 7 L3 3 M3 6 V3 H6" stroke="#13deb9" stroke-width="1.0" fill="none" stroke-linecap="round"/></svg>
<span class="t" style="left:930.15px;top:188.00px;font-size:11.73px;line-height:13.00px;letter-spacing:-0.300px;color:#2a3547;font-weight:400;transform:scaleY(1.0285);transform-origin:0 11px;">+9%</span>
<span class="t" style="left:955.50px;top:188.00px;font-size:11.62px;line-height:13.00px;letter-spacing:-0.300px;color:#7c8fac;font-weight:400;transform:scaleY(1.0385);transform-origin:0 11px;">last year</span>
<div style="position:absolute;left:913.00px;top:219.00px;width:6.00px;height:6.00px;background:#5d87ff;border-radius:50%"></div>
<span class="t" style="left:926.20px;top:217.00px;font-size:10.40px;line-height:11.00px;letter-spacing:-0.067px;color:#5a6a85;font-weight:400;">2023</span>
<div style="position:absolute;left:966.60px;top:219.00px;width:6.00px;height:6.00px;background:#ecf2ff;border-radius:50%"></div>
<span class="t" style="left:980.10px;top:217.00px;font-size:10.40px;line-height:11.00px;letter-spacing:-0.067px;color:#5a6a85;font-weight:400;">2023</span>
<svg style="position:absolute;left:0;top:0" width="1280" height="260"><path d="M1117.70 154.80 A36 36 0 0 1 1144.11 215.27" stroke="#5d87ff" stroke-width="10" fill="none"/><path d="M1144.11 215.27 A36 36 0 0 1 1081.74 189.15" stroke="#ecf2ff" stroke-width="10" fill="none"/><path d="M1081.74 189.15 A36 36 0 0 1 1117.70 154.80" stroke="#f6f6fb" stroke-width="10" fill="none"/></svg>
<div style="position:absolute;left:894.8px;top:279.8px;width:274.2px;height:170.2px;background:#fff;border-radius:7px;overflow:hidden;box-shadow:0 0 3px rgba(145,158,171,0.18),0 8px 18px -6px rgba(145,158,171,0.16);">
<svg style="position:absolute;left:0;top:0" width="274.2" height="170.2"><path d="M0.00 154.22 C22.85 154.22 22.85 128.03 45.70 128.03 C68.55 128.03 68.55 157.42 91.40 157.42 C114.25 157.42 114.25 144.64 137.10 144.64 C159.95 144.64 159.95 162.53 182.80 162.53 C205.65 162.53 205.65 133.14 228.50 133.14 C251.35 133.14 251.35 157.42 274.20 157.42 L274.2 170.2 L0 170.2Z" fill="rgba(73,190,255,0.06)"/><path d="M0.00 154.22 C22.85 154.22 22.85 128.03 45.70 128.03 C68.55 128.03 68.55 157.42 91.40 157.42 C114.25 157.42 114.25 144.64 137.10 144.64 C159.95 144.64 159.95 162.53 182.80 162.53 C205.65 162.53 205.65 133.14 228.50 133.14 C251.35 133.14 251.35 157.42 274.20 157.42" stroke="#49beff" stroke-width="1.8" fill="none"/></svg>
</div>
<span class="t" style="left:916.75px;top:303.00px;font-size:14.34px;line-height:16.00px;letter-spacing:0.020px;color:#2a3547;font-weight:400;-webkit-text-stroke:0.35px #2a3547;">Monthly Earnings</span>
<span class="t" style="left:917.10px;top:334.00px;font-size:16.56px;line-height:19.00px;letter-spacing:0.930px;color:#2a3547;font-weight:400;-webkit-text-stroke:0.35px #2a3547;">$6,820</span>
<div style="position:absolute;left:917.30px;top:365.00px;width:14.60px;height:14.60px;background:#fdede8;border-radius:50%"></div>
<svg style="position:absolute;left:919.6px;top:367.3px" width="10" height="10" viewBox="0 0 10 10"><path d="M3 3 L7 7 M7 4 V7 H4" stroke="#fa896b" stroke-width="1.0" fill="none" stroke-linecap="round"/></svg>
<span class="t" style="left:937.85px;top:367.00px;font-size:11.42px;line-height:12.00px;letter-spacing:-0.300px;color:#2a3547;font-weight:400;transform:scaleY(1.0563);transform-origin:0 10px;">+9%</span>
<span class="t" style="left:962.70px;top:366.00px;font-size:11.62px;line-height:13.00px;letter-spacing:-0.300px;color:#7c8fac;font-weight:400;transform:scaleY(1.0385);transform-origin:0 11px;">last year</span>
<div style="position:absolute;left:1113.00px;top:302.10px;width:32.80px;height:32.80px;background:#49beff;border-radius:50%"></div>
<svg style="position:absolute;left:1122.15px;top:311.45px" width="15.5" height="15.5" viewBox="0 0 24 24" fill="none" stroke="#fff" stroke-width="2" stroke-linecap="round" stroke-linejoin="round"><path d="M16.7 8a3 3 0 0 0 -2.7 -2h-4a3 3 0 0 0 0 6h4a3 3 0 0 1 0 6h-4a3 3 0 0 1 -2.7 -2"/><path d="M12 3v3m0 12v3"/></svg>
<div style="position:absolute;left:222px;top:460px;width:1058px;height:247px;overflow:hidden;"><div style="position:absolute;left:-222px;top:-460px;width:1280px;height:1280px;">
<div style="position:absolute;left:310.60px;top:473.75px;width:274.10px;height:300.00px;background:#fff;border-radius:7px;box-shadow:0 0 3px rgba(145,158,171,0.18),0 8px 18px -6px rgba(145,158,171,0.16);"></div>
<span class="t" style="left:328.60px;top:493.00px;font-size:14.34px;line-height:16.00px;letter-spacing:0.014px;color:#2a3547;font-weight:400;-webkit-text-stroke:0.35px #2a3547;">Recent Transactions</span>
<span class="t" style="left:353.20px;top:532.00px;font-size:11.96px;line-height:14.00px;letter-spacing:0.188px;color:#4b5870;font-weight:400;">09:30</span>
<div style="position:absolute;left:396.00px;top:534.10px;width:9.00px;height:9.00px;box-sizing:border-box;border:2px solid #5d87ff;border-radius:50%"></div>
<div style="position:absolute;left:400.00px;top:550.60px;width:1.00px;height:28.00px;background:#e5eaef"></div>
<span class="t" style="left:415.95px;top:530.00px;font-size:11.84px;line-height:14.00px;letter-spacing:-0.295px;color:#4b5870;font-weight:400;transform:scaleY(1.0100);transform-origin:0 11px;">Payment received from</span>
<span class="t" style="left:416.70px;top:545.00px;font-size:11.61px;line-height:13.00px;letter-spacing:-0.281px;color:#4b5870;font-weight:400;transform:scaleY(1.0299);transform-origin:0 11px;">John Doe of $385.90</span>
<span class="t" style="left:336.10px;top:584.00px;font-size:11.96px;line-height:14.00px;letter-spacing:-0.243px;color:#4b5870;font-weight:400;">10:00 am</span>
<div style="position:absolute;left:396.00px;top:586.10px;width:9.00px;height:9.00px;box-sizing:border-box;border:2px solid #539bff;border-radius:50%"></div>
<div style="position:absolute;left:400.00px;top:602.60px;width:1.00px;height:28.00px;background:#e5eaef"></div>
<span class="t" style="left:415.95px;top:582.00px;font-size:11.62px;line-height:13.00px;letter-spacing:-0.069px;color:#2a3547;font-weight:400;-webkit-text-stroke:0.35px #2a3547;">New sale recorded</span>
<span class="t" style="left:416.85px;top:597.00px;font-size:11.96px;line-height:14.00px;letter-spacing:-0.121px;color:#6f86ff;font-weight:400;">#ML-3467</span>
<span class="t" style="left:337.50px;top:636.00px;font-size:11.69px;line-height:13.00px;letter-spacing:-0.307px;color:#4b5870;font-weight:400;transform:scaleY(1.0234);transform-origin:0 11px;">12:00 am</span>
<div style="position:absolute;left:396.00px;top:638.10px;width:9.00px;height:9.00px;box-sizing:border-box;border:2px solid #13deb9;border-radius:50%"></div>
<div style="position:absolute;left:400.00px;top:654.60px;width:1.00px;height:28.00px;background:#e5eaef"></div>
<span class="t" style="left:415.95px;top:635.00px;font-size:11.51px;line-height:12.00px;letter-spacing:-0.292px;color:#4b5870;font-weight:400;transform:scaleY(1.0394);transform-origin:0 10px;">Payment was made of</span>
<span class="t" style="left:416.75px;top:649.00px;font-size:11.81px;line-height:14.00px;letter-spacing:-0.309px;color:#4b5870;font-weight:400;transform:scaleY(1.0130);transform-origin:0 11px;">$64.95 to Michael</span>
<span class="t" style="left:335.45px;top:688.00px;font-size:11.96px;line-height:14.00px;letter-spacing:-0.150px;color:#4b5870;font-weight:400;">09:30 am</span>
<div style="position:absolute;left:396.00px;top:690.10px;width:9.00px;height:9.00px;box-sizing:border-box;border:2px solid #ffae1f;border-radius:50%"></div>
<div style="position:absolute;left:400.00px;top:706.60px;width:1.00px;height:28.00px;background:#e5eaef"></div>
<span class="t" style="left:415.95px;top:686.00px;font-size:11.62px;line-height:13.00px;letter-spacing:-0.069px;color:#2a3547;font-weight:400;-webkit-text-stroke:0.35px #2a3547;">New sale recorded</span>
<span class="t" style="left:416.85px;top:701.00px;font-size:11.96px;line-height:14.00px;letter-spacing:-0.121px;color:#6f86ff;font-weight:400;">#ML-3467</span>
<div style="position:absolute;left:602.90px;top:474.00px;width:566.60px;height:300.00px;background:#fff;border-radius:7px;box-shadow:0 0 3px rgba(145,158,171,0.18),0 8px 18px -6px rgba(145,158,171,0.16);"></div>
<span class="t" style="left:620.15px;top:493.00px;font-size:14.34px;line-height:16.00px;letter-spacing:0.014px;color:#2a3547;font-weight:400;-webkit-text-stroke:0.35px #2a3547;">Recent Transactions</span>
<span class="t" style="left:631.60px;top:538.00px;font-size:11.92px;line-height:14.00px;letter-spacing:0.000px;color:#2a3547;font-weight:400;-webkit-text-stroke:0.35px #2a3547;">Id</span>
<span class="t" style="left:672.85px;top:538.00px;font-size:11.92px;line-height:14.00px;letter-spacing:-0.221px;color:#2a3547;font-weight:400;-webkit-text-stroke:0.35px #2a3547;">Assigned</span>
<span class="t" style="left:828.65px;top:538.00px;font-size:11.76px;line-height:13.00px;letter-spacing:-0.283px;color:#2a3547;font-weight:400;-webkit-text-stroke:0.35px #2a3547;transform:scaleY(1.0134);transform-origin:0 11px;">Name</span>
<span class="t" style="left:990.45px;top:538.00px;font-size:11.92px;line-height:14.00px;letter-spacing:0.000px;color:#2a3547;font-weight:400;-webkit-text-stroke:0.35px #2a3547;">Priority</span>
<span class="t" style="left:1085.05px;top:538.00px;font-size:11.92px;line-height:14.00px;letter-spacing:0.070px;color:#2a3547;font-weight:400;-webkit-text-stroke:0.35px #2a3547;">Budget</span>
<span class="t" style="left:631.80px;top:584.00px;font-size:11.92px;line-height:14.00px;letter-spacing:0.000px;color:#2a3547;font-weight:400;-webkit-text-stroke:0.35px #2a3547;">1</span>
<span class="t" style="left:672.40px;top:575.00px;font-size:11.22px;line-height:12.00px;letter-spacing:-0.300px;color:#2a3547;font-weight:400;-webkit-text-stroke:0.35px #2a3547;transform:scaleY(1.0624);transform-origin:0 10px;">Sunil Joshi</span>
<span class="t" style="left:672.85px;top:592.00px;font-size:11.45px;line-height:12.00px;letter-spacing:-0.286px;color:#7f8ba0;font-weight:400;transform:scaleY(1.0715);transform-origin:0 10px;">Web Designer</span>
<span class="t" style="left:828.65px;top:584.00px;font-size:11.67px;line-height:13.00px;letter-spacing:-0.300px;color:#67758c;font-weight:400;transform:scaleY(1.0336);transform-origin:0 11px;">Elite Admin</span>
<div style="position:absolute;left:991.40px;top:581.30px;width:36.00px;height:17.60px;background:#5d87ff;border-radius:9.0px"></div>
<span class="t" style="left:997.95px;top:584.00px;font-size:11.51px;line-height:12.00px;letter-spacing:0.400px;color:#fff;font-weight:400;-webkit-text-stroke:0.45px #fff;">Low</span>
<span class="t" style="left:1085.85px;top:583.00px;font-size:13.53px;line-height:15.00px;letter-spacing:0.067px;color:#2a3547;font-weight:400;-webkit-text-stroke:0.35px #2a3547;">$3.9</span>
<span class="t" style="left:632.10px;top:639.00px;font-size:11.92px;line-height:14.00px;letter-spacing:0.000px;color:#2a3547;font-weight:400;-webkit-text-stroke:0.35px #2a3547;">2</span>
<span class="t" style="left:672.85px;top:629.00px;font-size:11.92px;line-height:14.00px;letter-spacing:-0.275px;color:#2a3547;font-weight:400;-webkit-text-stroke:0.35px #2a3547;">Andrew McDownland</span>
<span class="t" style="left:671.95px;top:646.00px;font-size:11.72px;line-height:13.00px;letter-spacing:-0.300px;color:#7f8ba0;font-weight:400;transform:scaleY(1.0472);transform-origin:0 11px;">Project Manager</span>
<span class="t" style="left:828.70px;top:640.00px;font-size:11.09px;line-height:12.00px;letter-spacing:-0.306px;color:#67758c;font-weight:400;transform:scaleY(1.0876);transform-origin:0 10px;">Real Homes WP Theme</span>
<div style="position:absolute;left:991.40px;top:636.30px;width:55.20px;height:17.60px;background:#49beff;border-radius:9.0px"></div>
<span class="t" style="left:997.80px;top:639.00px;font-size:11.51px;line-height:12.00px;letter-spacing:0.260px;color:#fff;font-weight:400;-webkit-text-stroke:0.45px #fff;">Medium</span>
<span class="t" style="left:1085.85px;top:638.00px;font-size:13.53px;line-height:15.00px;letter-spacing:-0.110px;color:#2a3547;font-weight:400;-webkit-text-stroke:0.35px #2a3547;">$24.5k</span>
<span class="t" style="left:632.25px;top:694.00px;font-size:11.92px;line-height:14.00px;letter-spacing:0.000px;color:#2a3547;font-weight:400;-webkit-text-stroke:0.35px #2a3547;">3</span>
<span class="t" style="left:672.30px;top:684.00px;font-size:11.89px;line-height:14.00px;letter-spacing:-0.312px;color:#2a3547;font-weight:400;-webkit-text-stroke:0.35px #2a3547;transform:scaleY(1.0022);transform-origin:0 11px;">Christopher Jamil</span>
<span class="t" style="left:671.95px;top:701.00px;font-size:11.72px;line-height:13.00px;letter-spacing:-0.300px;color:#7f8ba0;font-weight:400;transform:scaleY(1.0472);transform-origin:0 11px;">Project Manager</span>
<span class="t" style="left:828.65px;top:695.00px;font-size:11.38px;line-height:12.00px;letter-spacing:-0.297px;color:#67758c;font-weight:400;transform:scaleY(1.0600);transform-origin:0 10px;">MedicalPro WP Theme</span>
<div style="position:absolute;left:991.40px;top:691.30px;width:38.30px;height:17.60px;background:#fa896b;border-radius:9.0px"></div>
<span class="t" style="left:998.10px;top:694.00px;font-size:11.51px;line-height:12.00px;letter-spacing:0.350px;color:#fff;font-weight:400;-webkit-text-stroke:0.45px #fff;">High</span>
<span class="t" style="left:1085.85px;top:693.00px;font-size:12.88px;line-height:15.00px;letter-spacing:-0.320px;color:#2a3547;font-weight:400;-webkit-text-stroke:0.35px #2a3547;transform:scaleY(1.0505);transform-origin:0 12px;">$12.8k</span>
</div></div>
<div style="position:absolute;left:222px;top:707px;width:1058px;height:246px;overflow:hidden;background:#fff"><div style="position:absolute;left:-222px;top:-707px;width:1280px;height:1280px;">
<div style="position:absolute;left:306.25px;top:713.10px;width:278.75px;height:320.00px;background:#fff;border-radius:7px;box-shadow:0 0 3px rgba(145,158,171,0.18),0 8px 18px -6px rgba(145,158,171,0.16);"></div>
<span class="t" style="left:324.40px;top:733.00px;font-size:14.57px;line-height:16.00px;letter-spacing:0.032px;color:#2a3547;font-weight:400;-webkit-text-stroke:0.35px #2a3547;">Recent Transactions</span>
<span class="t" style="left:350.32px;top:772.00px;font-size:12.15px;line-height:14.00px;letter-spacing:0.181px;color:#4b5870;font-weight:400;">09:30</span>
<div style="position:absolute;left:392.65px;top:774.00px;width:10.00px;height:10.00px;box-sizing:border-box;border:2px solid #5d87ff;border-radius:50%"></div>
<div style="position:absolute;left:397.15px;top:791.19px;width:1.00px;height:28.72px;background:#e5eaef"></div>
<span class="t" style="left:413.40px;top:770.00px;font-size:12.03px;line-height:14.00px;letter-spacing:-0.304px;color:#4b5870;font-weight:400;transform:scaleY(1.0104);transform-origin:0 11px;">Payment received from</span>
<span class="t" style="left:414.20px;top:785.00px;font-size:11.79px;line-height:13.00px;letter-spacing:-0.293px;color:#4b5870;font-weight:400;transform:scaleY(1.0308);transform-origin:0 11px;">John Doe of $385.90</span>
<span class="t" style="left:332.96px;top:826.00px;font-size:12.15px;line-height:14.00px;letter-spacing:-0.265px;color:#4b5870;font-weight:400;">10:00 am</span>
<div style="position:absolute;left:392.65px;top:827.10px;width:10.00px;height:10.00px;box-sizing:border-box;border:2px solid #539bff;border-radius:50%"></div>
<div style="position:absolute;left:397.15px;top:844.29px;width:1.00px;height:28.72px;background:#e5eaef"></div>
<span class="t" style="left:413.45px;top:823.00px;font-size:11.80px;line-height:14.00px;letter-spacing:-0.078px;color:#2a3547;font-weight:400;-webkit-text-stroke:0.35px #2a3547;">New sale recorded</span>
<span class="t" style="left:414.35px;top:839.00px;font-size:12.15px;line-height:14.00px;letter-spacing:-0.130px;color:#6f86ff;font-weight:400;">#ML-3467</span>
<span class="t" style="left:334.38px;top:879.00px;font-size:11.84px;line-height:14.00px;letter-spacing:-0.290px;color:#4b5870;font-weight:400;transform:scaleY(1.0260);transform-origin:0 11px;">12:00 am</span>
<div style="position:absolute;left:392.65px;top:880.20px;width:10.00px;height:10.00px;box-sizing:border-box;border:2px solid #13deb9;border-radius:50%"></div>
<div style="position:absolute;left:397.15px;top:897.39px;width:1.00px;height:28.72px;background:#e5eaef"></div>
<span class="t" style="left:413.45px;top:876.00px;font-size:11.67px;line-height:13.00px;letter-spacing:-0.277px;color:#4b5870;font-weight:400;transform:scaleY(1.0409);transform-origin:0 11px;">Payment was made of</span>
<span class="t" style="left:414.25px;top:892.00px;font-size:11.95px;line-height:14.00px;letter-spacing:-0.294px;color:#4b5870;font-weight:400;transform:scaleY(1.0172);transform-origin:0 11px;">$64.95 to Michael</span>
<span class="t" style="left:332.29px;top:932.00px;font-size:12.15px;line-height:14.00px;letter-spacing:-0.170px;color:#4b5870;font-weight:400;">09:30 am</span>
<div style="position:absolute;left:392.65px;top:933.30px;width:10.00px;height:10.00px;box-sizing:border-box;border:2px solid #ffae1f;border-radius:50%"></div>
<div style="position:absolute;left:397.15px;top:950.49px;width:1.00px;height:28.72px;background:#e5eaef"></div>
<span class="t" style="left:413.45px;top:929.00px;font-size:11.80px;line-height:14.00px;letter-spacing:-0.078px;color:#2a3547;font-weight:400;-webkit-text-stroke:0.35px #2a3547;">New sale recorded</span>
<span class="t" style="left:414.35px;top:945.00px;font-size:12.15px;line-height:14.00px;letter-spacing:-0.130px;color:#6f86ff;font-weight:400;">#ML-3467</span>
<div style="position:absolute;left:603.10px;top:713.10px;width:575.00px;height:320.00px;background:#fff;border-radius:7px;box-shadow:0 0 3px rgba(145,158,171,0.18),0 8px 18px -6px rgba(145,158,171,0.16);"></div>
<span class="t" style="left:620.59px;top:733.00px;font-size:14.57px;line-height:16.00px;letter-spacing:0.032px;color:#2a3547;font-weight:400;-webkit-text-stroke:0.35px #2a3547;">Recent Transactions</span>
<span class="t" style="left:632.50px;top:779.00px;font-size:12.11px;line-height:14.00px;letter-spacing:0.000px;color:#2a3547;font-weight:400;-webkit-text-stroke:0.35px #2a3547;">Id</span>
<span class="t" style="left:674.25px;top:779.00px;font-size:12.11px;line-height:14.00px;letter-spacing:-0.229px;color:#2a3547;font-weight:400;-webkit-text-stroke:0.35px #2a3547;">Assigned</span>
<span class="t" style="left:832.30px;top:779.00px;font-size:11.97px;line-height:14.00px;letter-spacing:-0.295px;color:#2a3547;font-weight:400;-webkit-text-stroke:0.35px #2a3547;transform:scaleY(1.0118);transform-origin:0 11px;">Name</span>
<span class="t" style="left:996.80px;top:779.00px;font-size:12.11px;line-height:14.00px;letter-spacing:-0.003px;color:#2a3547;font-weight:400;-webkit-text-stroke:0.35px #2a3547;">Priority</span>
<span class="t" style="left:1093.00px;top:779.00px;font-size:12.11px;line-height:14.00px;letter-spacing:0.058px;color:#2a3547;font-weight:400;-webkit-text-stroke:0.35px #2a3547;">Budget</span>
<span class="t" style="left:632.70px;top:825.00px;font-size:12.11px;line-height:14.00px;letter-spacing:0.000px;color:#2a3547;font-weight:400;-webkit-text-stroke:0.35px #2a3547;">1</span>
<span class="t" style="left:673.80px;top:817.00px;font-size:11.36px;line-height:12.00px;letter-spacing:-0.290px;color:#2a3547;font-weight:400;-webkit-text-stroke:0.35px #2a3547;transform:scaleY(1.0663);transform-origin:0 10px;">Sunil Joshi</span>
<span class="t" style="left:674.25px;top:833.00px;font-size:11.64px;line-height:13.00px;letter-spacing:-0.295px;color:#7f8ba0;font-weight:400;transform:scaleY(1.0709);transform-origin:0 11px;">Web Designer</span>
<span class="t" style="left:832.35px;top:825.00px;font-size:11.85px;line-height:14.00px;letter-spacing:-0.314px;color:#67758c;font-weight:400;transform:scaleY(1.0344);transform-origin:0 11px;">Elite Admin</span>
<div style="position:absolute;left:997.80px;top:822.55px;width:36.58px;height:17.88px;background:#5d87ff;border-radius:9.1px"></div>
<span class="t" style="left:1004.47px;top:825.00px;font-size:11.70px;line-height:13.00px;letter-spacing:0.393px;color:#fff;font-weight:400;-webkit-text-stroke:0.45px #fff;">Low</span>
<span class="t" style="left:1093.85px;top:825.00px;font-size:13.75px;line-height:15.00px;letter-spacing:0.088px;color:#2a3547;font-weight:400;-webkit-text-stroke:0.35px #2a3547;">$3.9</span>
<span class="t" style="left:633.00px;top:881.00px;font-size:12.11px;line-height:14.00px;letter-spacing:0.000px;color:#2a3547;font-weight:400;-webkit-text-stroke:0.35px #2a3547;">2</span>
<span class="t" style="left:674.25px;top:871.00px;font-size:12.11px;line-height:14.00px;letter-spacing:-0.287px;color:#2a3547;font-weight:400;-webkit-text-stroke:0.35px #2a3547;">Andrew McDownland</span>
<span class="t" style="left:673.35px;top:888.00px;font-size:11.90px;line-height:14.00px;letter-spacing:-0.312px;color:#7f8ba0;font-weight:400;transform:scaleY(1.0481);transform-origin:0 11px;">Project Manager</span>
<span class="t" style="left:832.40px;top:882.00px;font-size:11.24px;line-height:12.00px;letter-spacing:-0.292px;color:#67758c;font-weight:400;transform:scaleY(1.0901);transform-origin:0 10px;">Real Homes WP Theme</span>
<div style="position:absolute;left:997.80px;top:878.05px;width:56.08px;height:17.88px;background:#49beff;border-radius:9.1px"></div>
<span class="t" style="left:1004.32px;top:880.00px;font-size:11.70px;line-height:13.00px;letter-spacing:0.250px;color:#fff;font-weight:400;-webkit-text-stroke:0.45px #fff;">Medium</span>
<span class="t" style="left:1093.85px;top:880.00px;font-size:13.75px;line-height:15.00px;letter-spacing:-0.102px;color:#2a3547;font-weight:400;-webkit-text-stroke:0.35px #2a3547;">$24.5k</span>
<span class="t" style="left:633.15px;top:936.00px;font-size:12.11px;line-height:14.00px;letter-spacing:0.000px;color:#2a3547;font-weight:400;-webkit-text-stroke:0.35px #2a3547;">3</span>
<span class="t" style="left:673.70px;top:927.00px;font-size:12.07px;line-height:14.00px;letter-spacing:-0.298px;color:#2a3547;font-weight:400;-webkit-text-stroke:0.35px #2a3547;transform:scaleY(1.0034);transform-origin:0 11px;">Christopher Jamil</span>
<span class="t" style="left:673.35px;top:944.00px;font-size:11.90px;line-height:14.00px;letter-spacing:-0.312px;color:#7f8ba0;font-weight:400;transform:scaleY(1.0481);transform-origin:0 11px;">Project Manager</span>
<span class="t" style="left:832.35px;top:937.00px;font-size:11.59px;line-height:12.00px;letter-spacing:-0.313px;color:#67758c;font-weight:400;transform:scaleY(1.0573);transform-origin:0 10px;">MedicalPro WP Theme</span>
<div style="position:absolute;left:997.80px;top:933.55px;width:38.91px;height:17.88px;background:#fa896b;border-radius:9.1px"></div>
<span class="t" style="left:1004.62px;top:936.00px;font-size:11.70px;line-height:13.00px;letter-spacing:0.339px;color:#fff;font-weight:400;-webkit-text-stroke:0.45px #fff;">High</span>
<span class="t" style="left:1093.85px;top:936.00px;font-size:13.04px;line-height:15.00px;letter-spacing:-0.292px;color:#2a3547;font-weight:400;-webkit-text-stroke:0.35px #2a3547;transform:scaleY(1.0544);transform-origin:0 12px;">$12.8k</span>
</div></div>
<div style="position:absolute;left:222px;top:953px;width:1058px;height:254px;overflow:hidden;background:#fff"><div style="position:absolute;left:-222px;top:-953px;width:1280px;height:1280px;">
<div style="position:absolute;left:306.25px;top:960.00px;width:278.75px;height:320.00px;background:#fff;border-radius:7px;box-shadow:0 0 3px rgba(145,158,171,0.18),0 8px 18px -6px rgba(145,158,171,0.16);"></div>
<span class="t" style="left:324.40px;top:980.00px;font-size:14.57px;line-height:16.00px;letter-spacing:0.032px;color:#2a3547;font-weight:400;-webkit-text-stroke:0.35px #2a3547;">Recent Transactions</span>
<span class="t" style="left:350.32px;top:1019.00px;font-size:12.15px;line-height:14.00px;letter-spacing:0.181px;color:#4b5870;font-weight:400;">09:30</span>
<div style="position:absolute;left:392.65px;top:1020.90px;width:10.00px;height:10.00px;box-sizing:border-box;border:2px solid #5d87ff;border-radius:50%"></div>
<div style="position:absolute;left:397.15px;top:1038.09px;width:1.00px;height:28.72px;background:#e5eaef"></div>
<span class="t" style="left:413.40px;top:1017.00px;font-size:12.03px;line-height:14.00px;letter-spacing:-0.304px;color:#4b5870;font-weight:400;transform:scaleY(1.0104);transform-origin:0 11px;">Payment received from</span>
<span class="t" style="left:414.20px;top:1032.00px;font-size:11.79px;line-height:13.00px;letter-spacing:-0.293px;color:#4b5870;font-weight:400;transform:scaleY(1.0308);transform-origin:0 11px;">John Doe of $385.90</span>
<span class="t" style="left:332.96px;top:1072.00px;font-size:12.15px;line-height:14.00px;letter-spacing:-0.265px;color:#4b5870;font-weight:400;">10:00 am</span>
<div style="position:absolute;left:392.65px;top:1074.00px;width:10.00px;height:10.00px;box-sizing:border-box;border:2px solid #539bff;border-radius:50%"></div>
<div style="position:absolute;left:397.15px;top:1091.19px;width:1.00px;height:28.72px;background:#e5eaef"></div>
<span class="t" style="left:413.45px;top:1070.00px;font-size:11.80px;line-height:14.00px;letter-spacing:-0.078px;color:#2a3547;font-weight:400;-webkit-text-stroke:0.35px #2a3547;">New sale recorded</span>
<span class="t" style="left:414.35px;top:1085.00px;font-size:12.15px;line-height:14.00px;letter-spacing:-0.130px;color:#6f86ff;font-weight:400;">#ML-3467</span>
<span class="t" style="left:334.38px;top:1126.00px;font-size:11.84px;line-height:14.00px;letter-spacing:-0.290px;color:#4b5870;font-weight:400;transform:scaleY(1.0260);transform-origin:0 11px;">12:00 am</span>
<div style="position:absolute;left:392.65px;top:1127.10px;width:10.00px;height:10.00px;box-sizing:border-box;border:2px solid #13deb9;border-radius:50%"></div>
<div style="position:absolute;left:397.15px;top:1144.29px;width:1.00px;height:28.72px;background:#e5eaef"></div>
<span class="t" style="left:413.45px;top:1123.00px;font-size:11.67px;line-height:13.00px;letter-spacing:-0.277px;color:#4b5870;font-weight:400;transform:scaleY(1.0409);transform-origin:0 11px;">Payment was made of</span>
<span class="t" style="left:414.25px;top:1139.00px;font-size:11.95px;line-height:14.00px;letter-spacing:-0.294px;color:#4b5870;font-weight:400;transform:scaleY(1.0172);transform-origin:0 11px;">$64.95 to Michael</span>
<span class="t" style="left:332.29px;top:1179.00px;font-size:12.15px;line-height:14.00px;letter-spacing:-0.170px;color:#4b5870;font-weight:400;">09:30 am</span>
<div style="position:absolute;left:392.65px;top:1180.20px;width:10.00px;height:10.00px;box-sizing:border-box;border:2px solid #ffae1f;border-radius:50%"></div>
<div style="position:absolute;left:397.15px;top:1197.39px;width:1.00px;height:28.72px;background:#e5eaef"></div>
<span class="t" style="left:413.45px;top:1176.00px;font-size:11.80px;line-height:14.00px;letter-spacing:-0.078px;color:#2a3547;font-weight:400;-webkit-text-stroke:0.35px #2a3547;">New sale recorded</span>
<span class="t" style="left:414.35px;top:1192.00px;font-size:12.15px;line-height:14.00px;letter-spacing:-0.130px;color:#6f86ff;font-weight:400;">#ML-3467</span>
<div style="position:absolute;left:603.10px;top:960.00px;width:575.00px;height:320.00px;background:#fff;border-radius:7px;box-shadow:0 0 3px rgba(145,158,171,0.18),0 8px 18px -6px rgba(145,158,171,0.16);"></div>
<span class="t" style="left:620.59px;top:979.00px;font-size:14.57px;line-height:16.00px;letter-spacing:0.032px;color:#2a3547;font-weight:400;-webkit-text-stroke:0.35px #2a3547;">Recent Transactions</span>
<span class="t" style="left:632.50px;top:1026.00px;font-size:12.11px;line-height:14.00px;letter-spacing:0.000px;color:#2a3547;font-weight:400;-webkit-text-stroke:0.35px #2a3547;">Id</span>
<span class="t" style="left:674.25px;top:1026.00px;font-size:12.11px;line-height:14.00px;letter-spacing:-0.229px;color:#2a3547;font-weight:400;-webkit-text-stroke:0.35px #2a3547;">Assigned</span>
<span class="t" style="left:832.30px;top:1026.00px;font-size:11.97px;line-height:14.00px;letter-spacing:-0.295px;color:#2a3547;font-weight:400;-webkit-text-stroke:0.35px #2a3547;transform:scaleY(1.0118);transform-origin:0 11px;">Name</span>
<span class="t" style="left:996.80px;top:1026.00px;font-size:12.11px;line-height:14.00px;letter-spacing:-0.003px;color:#2a3547;font-weight:400;-webkit-text-stroke:0.35px #2a3547;">Priority</span>
<span class="t" style="left:1093.00px;top:1026.00px;font-size:12.11px;line-height:14.00px;letter-spacing:0.058px;color:#2a3547;font-weight:400;-webkit-text-stroke:0.35px #2a3547;">Budget</span>
<span class="t" style="left:632.70px;top:1072.00px;font-size:12.11px;line-height:14.00px;letter-spacing:0.000px;color:#2a3547;font-weight:400;-webkit-text-stroke:0.35px #2a3547;">1</span>
<span class="t" style="left:673.80px;top:1064.00px;font-size:11.36px;line-height:12.00px;letter-spacing:-0.290px;color:#2a3547;font-weight:400;-webkit-text-stroke:0.35px #2a3547;transform:scaleY(1.0663);transform-origin:0 10px;">Sunil Joshi</span>
<span class="t" style="left:674.25px;top:1080.00px;font-size:11.64px;line-height:13.00px;letter-spacing:-0.295px;color:#7f8ba0;font-weight:400;transform:scaleY(1.0709);transform-origin:0 11px;">Web Designer</span>
<span class="t" style="left:832.35px;top:1072.00px;font-size:11.85px;line-height:14.00px;letter-spacing:-0.314px;color:#67758c;font-weight:400;transform:scaleY(1.0344);transform-origin:0 11px;">Elite Admin</span>
<div style="position:absolute;left:997.80px;top:1069.45px;width:36.58px;height:17.88px;background:#5d87ff;border-radius:9.1px"></div>
<span class="t" style="left:1004.47px;top:1072.00px;font-size:11.70px;line-height:13.00px;letter-spacing:0.393px;color:#fff;font-weight:400;-webkit-text-stroke:0.45px #fff;">Low</span>
<span class="t" style="left:1093.85px;top:1072.00px;font-size:13.75px;line-height:15.00px;letter-spacing:0.088px;color:#2a3547;font-weight:400;-webkit-text-stroke:0.35px #2a3547;">$3.9</span>
<span class="t" style="left:633.00px;top:1128.00px;font-size:12.11px;line-height:14.00px;letter-spacing:0.000px;color:#2a3547;font-weight:400;-webkit-text-stroke:0.35px #2a3547;">2</span>
<span class="t" style="left:674.25px;top:1118.00px;font-size:12.11px;line-height:14.00px;letter-spacing:-0.287px;color:#2a3547;font-weight:400;-webkit-text-stroke:0.35px #2a3547;">Andrew McDownland</span>
<span class="t" style="left:673.35px;top:1135.00px;font-size:11.90px;line-height:14.00px;letter-spacing:-0.312px;color:#7f8ba0;font-weight:400;transform:scaleY(1.0481);transform-origin:0 11px;">Project Manager</span>
<span class="t" style="left:832.40px;top:1129.00px;font-size:11.24px;line-height:12.00px;letter-spacing:-0.292px;color:#67758c;font-weight:400;transform:scaleY(1.0901);transform-origin:0 10px;">Real Homes WP Theme</span>
<div style="position:absolute;left:997.80px;top:1124.95px;width:56.08px;height:17.88px;background:#49beff;border-radius:9.1px"></div>
<span class="t" style="left:1004.32px;top:1127.00px;font-size:11.70px;line-height:13.00px;letter-spacing:0.250px;color:#fff;font-weight:400;-webkit-text-stroke:0.45px #fff;">Medium</span>
<span class="t" style="left:1093.85px;top:1127.00px;font-size:13.75px;line-height:15.00px;letter-spacing:-0.102px;color:#2a3547;font-weight:400;-webkit-text-stroke:0.35px #2a3547;">$24.5k</span>
<span class="t" style="left:633.15px;top:1183.00px;font-size:12.11px;line-height:14.00px;letter-spacing:0.000px;color:#2a3547;font-weight:400;-webkit-text-stroke:0.35px #2a3547;">3</span>
<span class="t" style="left:673.70px;top:1174.00px;font-size:12.07px;line-height:14.00px;letter-spacing:-0.298px;color:#2a3547;font-weight:400;-webkit-text-stroke:0.35px #2a3547;transform:scaleY(1.0034);transform-origin:0 11px;">Christopher Jamil</span>
<span class="t" style="left:673.35px;top:1191.00px;font-size:11.90px;line-height:14.00px;letter-spacing:-0.312px;color:#7f8ba0;font-weight:400;transform:scaleY(1.0481);transform-origin:0 11px;">Project Manager</span>
<span class="t" style="left:832.35px;top:1184.00px;font-size:11.59px;line-height:12.00px;letter-spacing:-0.313px;color:#67758c;font-weight:400;transform:scaleY(1.0573);transform-origin:0 10px;">MedicalPro WP Theme</span>
<div style="position:absolute;left:997.80px;top:1180.45px;width:38.91px;height:17.88px;background:#fa896b;border-radius:9.1px"></div>
<span class="t" style="left:1004.62px;top:1183.00px;font-size:11.70px;line-height:13.00px;letter-spacing:0.339px;color:#fff;font-weight:400;-webkit-text-stroke:0.45px #fff;">High</span>
<span class="t" style="left:1093.85px;top:1183.00px;font-size:13.04px;line-height:15.00px;letter-spacing:-0.292px;color:#2a3547;font-weight:400;-webkit-text-stroke:0.35px #2a3547;transform:scaleY(1.0544);transform-origin:0 12px;">$12.8k</span>
</div></div>
<div style="position:absolute;left:24.00px;top:718.80px;width:9.50px;height:1.20px;background:#3a4556"></div>
<div style="position:absolute;left:222.00px;top:718.80px;width:25.60px;height:1.30px;background:#c2c6cc"></div>
</body></html>
